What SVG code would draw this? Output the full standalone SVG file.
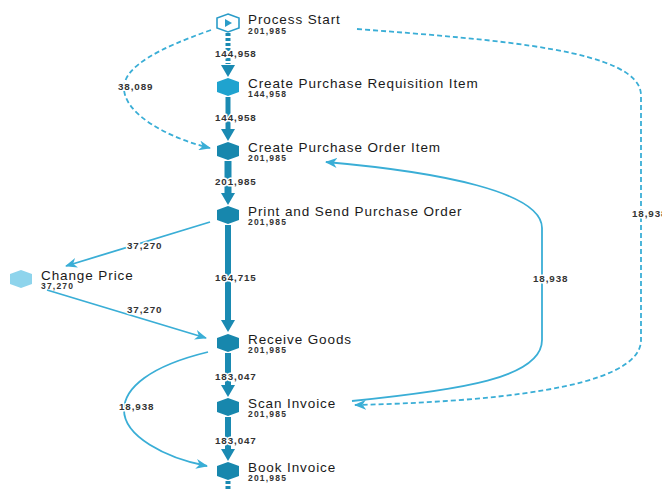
<svg xmlns="http://www.w3.org/2000/svg" width="662" height="490" viewBox="0 0 662 490">
  <style>
    .name { font-family: "Liberation Sans", Arial, sans-serif; font-size: 13.5px; letter-spacing: 0.9px; fill: #1a1a1a; }
    .count { font-family: "Liberation Sans", Arial, sans-serif; font-size: 8.5px; font-weight: bold; letter-spacing: 1.2px; fill: #333; }
    .elabel { font-family: "Liberation Sans", Arial, sans-serif; font-size: 9.8px; font-weight: bold; letter-spacing: 0.9px; fill: #333; stroke: #fff; stroke-width: 3px; paint-order: stroke; stroke-linejoin: round; }
    .hex { fill: #1787ad; }
    .side { fill: none; stroke: #3aaed6; stroke-width: 1.8; }
    .dash { stroke-dasharray: 5 3; }
    .bar { stroke: #1a8ab2; }
    .head { fill: #1a8ab2; }
  </style>
  <defs>
    <polygon id="hexShape" points="0,-9 11,-5 11,5 0,9 -11,5 -11,-5"/>
    <polygon id="headShape" points="-7,-12 7,-12 0,0"/>
    <marker id="arrow" viewBox="0 0 12 10" refX="11" refY="5" markerWidth="12" markerHeight="10" markerUnits="userSpaceOnUse" orient="auto">
      <path d="M0,0 L12,5 L0,10 L3.5,5 z" fill="#3aaed6"/>
    </marker>
  </defs>

  <g id="connectors">
    <!-- main flow bars -->
    <line class="bar" x1="228" y1="33" x2="228" y2="64" stroke-width="5" stroke-dasharray="3 2"/>
    <use href="#headShape" class="head" x="228" y="77"/>
    <line class="bar" x1="228" y1="97" x2="228" y2="129" stroke-width="5"/>
    <use href="#headShape" class="head" x="228" y="141"/>
    <line class="bar" x1="228" y1="161" x2="228" y2="193" stroke-width="7"/>
    <use href="#headShape" class="head" x="228" y="205"/>
    <line class="bar" x1="228" y1="225" x2="228" y2="320" stroke-width="6"/>
    <use href="#headShape" class="head" x="228" y="332"/>
    <line class="bar" x1="228" y1="353" x2="228" y2="385" stroke-width="6"/>
    <use href="#headShape" class="head" x="228" y="397"/>
    <line class="bar" x1="228" y1="417" x2="228" y2="449" stroke-width="6"/>
    <use href="#headShape" class="head" x="228" y="461"/>
    <line class="bar" x1="228" y1="481" x2="228" y2="490" stroke-width="5" stroke-dasharray="3 2"/>

    <!-- side flows -->
    <path class="side dash" d="M211,30 C160,48 124,66 124,88 C124,114 168,138 210,148" marker-end="url(#arrow)"/>
    <path class="side" d="M210,222 L66,266" marker-end="url(#arrow)"/>
    <path class="side" d="M47,290 L206,338" marker-end="url(#arrow)"/>
    <path class="side" d="M208,352 C150,366 124,388 124,410 C124,436 165,458 207,466" marker-end="url(#arrow)"/>
    <path class="side" d="M352,401 C460,390 542,378 542,340 L542,228 C542,192 440,172 326,162" marker-end="url(#arrow)"/>
    <path class="side dash" d="M357,29 C500,40 640,50 641,95 L641,340 C641,390 480,402 355,405" marker-end="url(#arrow)"/>

    <!-- flow counts -->
    <text class="elabel" x="215" y="57">144,958</text>
    <text class="elabel" x="215" y="121">144,958</text>
    <text class="elabel" x="215" y="185">201,985</text>
    <text class="elabel" x="215" y="281">164,715</text>
    <text class="elabel" x="215" y="380">183,047</text>
    <text class="elabel" x="215" y="444">183,047</text>
    <text class="elabel" x="118" y="90">38,089</text>
    <text class="elabel" x="127" y="249">37,270</text>
    <text class="elabel" x="127" y="313">37,270</text>
    <text class="elabel" x="119" y="410">18,938</text>
    <text class="elabel" x="533" y="282">18,938</text>
    <text class="elabel" x="632" y="217">18,938</text>
  </g>

  <g id="process-start">
    <use href="#hexShape" x="228" y="23" fill="#fff" stroke="#2a9cc8" stroke-width="1.6"/>
    <polygon points="225,19 232,23 225,27" fill="#2a9cc8"/>
    <text class="name" x="248" y="24">Process Start</text>
    <text class="count" x="248" y="34">201,985</text>
  </g>
  <g id="create-purchase-requisition-item">
    <use href="#hexShape" x="228" y="87" fill="#1fa3cf"/>
    <text class="name" x="248" y="88">Create Purchase Requisition Item</text>
    <text class="count" x="248" y="97">144,958</text>
  </g>
  <g id="create-purchase-order-item">
    <use href="#hexShape" class="hex" x="228" y="151"/>
    <text class="name" x="248" y="152">Create Purchase Order Item</text>
    <text class="count" x="248" y="161">201,985</text>
  </g>
  <g id="print-and-send-purchase-order">
    <use href="#hexShape" class="hex" x="228" y="215"/>
    <text class="name" x="248" y="216">Print and Send Purchase Order</text>
    <text class="count" x="248" y="225">201,985</text>
  </g>
  <g id="change-price">
    <use href="#hexShape" x="21" y="279" fill="#8ed4ec"/>
    <text class="name" x="41" y="280">Change Price</text>
    <text class="count" x="41" y="289">37,270</text>
  </g>
  <g id="receive-goods">
    <use href="#hexShape" class="hex" x="228" y="343"/>
    <text class="name" x="248" y="344">Receive Goods</text>
    <text class="count" x="248" y="353">201,985</text>
  </g>
  <g id="scan-invoice">
    <use href="#hexShape" class="hex" x="228" y="407"/>
    <text class="name" x="248" y="408">Scan Invoice</text>
    <text class="count" x="248" y="417">201,985</text>
  </g>
  <g id="book-invoice">
    <use href="#hexShape" class="hex" x="228" y="471"/>
    <text class="name" x="248" y="472">Book Invoice</text>
    <text class="count" x="248" y="481">201,985</text>
  </g>
</svg>
